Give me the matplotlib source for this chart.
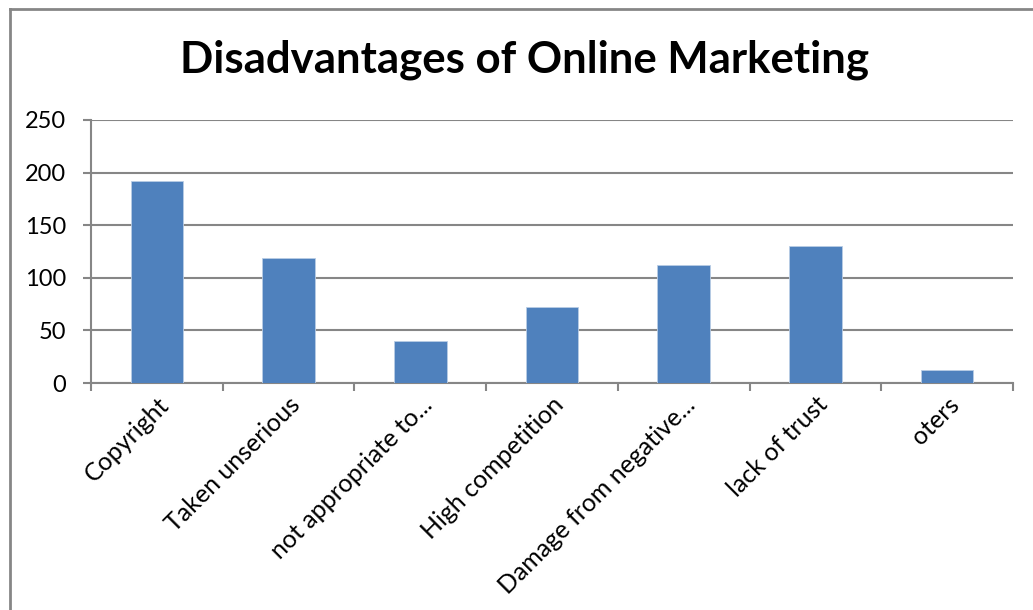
import numpy as np
import matplotlib.pyplot as plt
from matplotlib.lines import Line2D

categories = ["Copyright", "Taken unserious", "not appropriate to...", "High competition",
              "Damage from negative...", "lack of trust", "oters"]
values = [192, 119, 40, 72, 112, 130, 12]
yticks = [0, 50, 100, 150, 200, 250]

plt.rcParams['font.family'] = ['Lato', 'DejaVu Sans']
grey = '#868686'

fig = plt.figure(figsize=(10.33, 6.10), dpi=100)
ax = fig.add_axes([91/1033, 1-383/610, (1013-91)/1033, (383-120)/610])

x = np.arange(len(categories))
ax.bar(x, values, width=0.4, color='#4F81BD', edgecolor='#B9CDE5', linewidth=0.6, zorder=3)

ax.set_xlim(-0.5, len(categories)-0.5)
ax.set_ylim(0, 250)
ax.set_yticks(yticks)
ax.set_yticklabels([str(v) for v in yticks], fontsize=17)
ax.yaxis.grid(True, color=grey, linewidth=1.5, zorder=0)

# category boundary ticks, labels at centers
ax.set_xticks(np.arange(len(categories)+1)-0.5)
ax.set_xticklabels([])
ax.set_xticks(x, minor=True)
ax.set_xticklabels(categories, minor=True, rotation=45, ha='right', va='top',
                   rotation_mode='anchor', fontsize=18)
ax.tick_params(axis='x', which='minor', length=0, pad=7)
ax.tick_params(axis='x', which='major', length=6, width=1.5, color=grey, direction='out')
ax.tick_params(axis='y', length=6, width=1.5, color=grey, direction='out', pad=12)

for s in ['top', 'right']:
    ax.spines[s].set_visible(False)
for s in ['left', 'bottom']:
    ax.spines[s].set_color(grey)
    ax.spines[s].set_linewidth(1.5)

fig.text(0.508, 1-60/610, "Disadvantages of Online Marketing", ha='center', va='center',
         fontsize=31.5, fontweight='bold')

# outer chart frame
fig.add_artist(Line2D([9.5/1033, 1.0], [1-8.5/610, 1-8.5/610], color=grey, linewidth=2))
fig.add_artist(Line2D([9.5/1033, 9.5/1033], [0, 1-8.5/610], color=grey, linewidth=2))

fig.savefig("out.png", dpi=100)
